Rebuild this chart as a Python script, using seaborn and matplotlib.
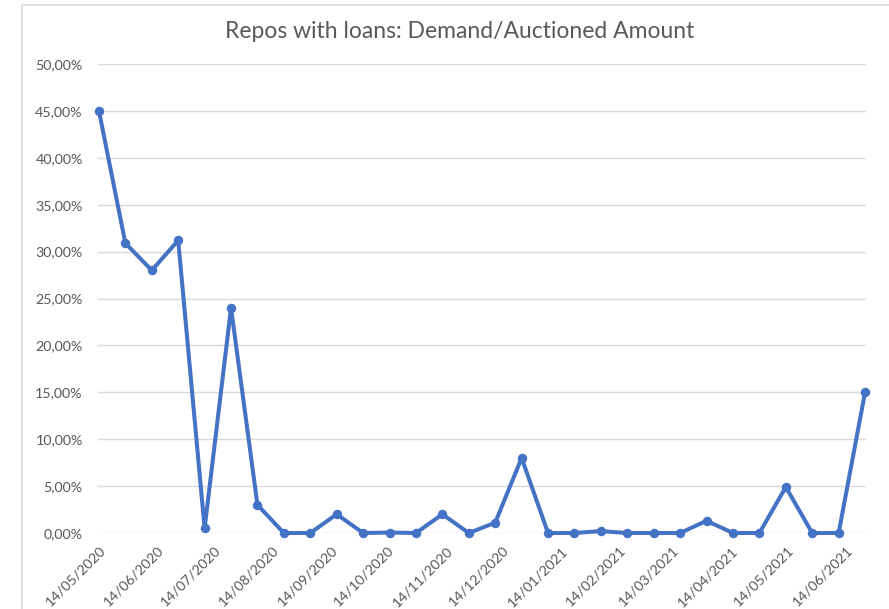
import matplotlib
matplotlib.use('Agg')
import matplotlib.pyplot as plt
import matplotlib.ticker as mticker
import matplotlib.dates as mdates
from matplotlib.patches import Rectangle
import seaborn as sns
import pandas as pd

# ---- data (auctions every 14 days) ----
dates = [
    '14/05/2020', '28/05/2020', '11/06/2020', '25/06/2020', '09/07/2020',
    '23/07/2020', '06/08/2020', '20/08/2020', '03/09/2020', '17/09/2020',
    '01/10/2020', '15/10/2020', '29/10/2020', '12/11/2020', '26/11/2020',
    '10/12/2020', '24/12/2020', '07/01/2021', '21/01/2021', '04/02/2021',
    '18/02/2021', '04/03/2021', '18/03/2021', '01/04/2021', '15/04/2021',
    '29/04/2021', '13/05/2021', '27/05/2021', '10/06/2021', '24/06/2021',
]
ratio = [
    45.0, 30.9, 28.0, 31.2, 0.5, 24.0, 3.0, 0.0, 0.0, 2.0,
    0.0, 0.05, 0.0, 2.0, 0.0, 1.1, 8.0, 0.0, 0.0, 0.2,
    0.0, 0.0, 0.0, 1.3, 0.0, 0.0, 4.9, 0.0, 0.0, 15.0,
]

df = pd.DataFrame({'date': pd.to_datetime(dates, format='%d/%m/%Y'),
                   'ratio': ratio})

sns.set_style('white')
plt.rcParams['font.family'] = ['Lato', 'DejaVu Sans']
text_grey = '#595959'

fig = plt.figure(figsize=(8.89, 6.09), dpi=100)
ax = fig.add_axes([98 / 889, 76 / 609, 768 / 889, 469 / 609])

# chart frame (light grey border, cut off at right/bottom)
fig.patches.append(Rectangle((22 / 889, -0.05), 1.2, 1.05 - 5 / 609,
                             transform=fig.transFigure, fill=False,
                             edgecolor='#D9D9D9', linewidth=1.2, zorder=0))

sns.lineplot(data=df, x='date', y='ratio', ax=ax, color='#4472C4',
             linewidth=2.9, marker='o', markersize=6.8, markeredgewidth=0,
             zorder=3)
for line in ax.lines:
    line.set_clip_on(False)

ax.set_ylim(0, 50)
ax.set_xlim(df['date'].iloc[0] - pd.Timedelta(hours=12),
            df['date'].iloc[-1] + pd.Timedelta(hours=12))
ax.yaxis.set_major_locator(mticker.MultipleLocator(5))
ax.yaxis.set_major_formatter(
    mticker.FuncFormatter(lambda v, _: f'{v:.2f}%'.replace('.', ',')))
ax.xaxis.set_major_locator(mdates.MonthLocator(bymonthday=14))
ax.xaxis.set_major_formatter(mdates.DateFormatter('%d/%m/%Y'))
ax.grid(axis='y', color='#D9D9D9', linewidth=1)
ax.grid(axis='x', visible=False)
ax.set_axisbelow(True)

plt.setp(ax.get_xticklabels(), rotation=45, ha='right', rotation_mode='anchor')
ax.tick_params(axis='both', length=0, labelsize=10.3, colors=text_grey)
ax.tick_params(axis='y', pad=11)
ax.tick_params(axis='x', pad=8)

for s in ax.spines.values():
    s.set_visible(False)

ax.set_xlabel('')
ax.set_ylabel('')
fig.text(460 / 889, 1 - 32 / 609, 'Repos with loans: Demand/Auctioned Amount',
         ha='center', va='center', fontsize=16.5, color=text_grey)

fig.savefig('out.png', dpi=100)
